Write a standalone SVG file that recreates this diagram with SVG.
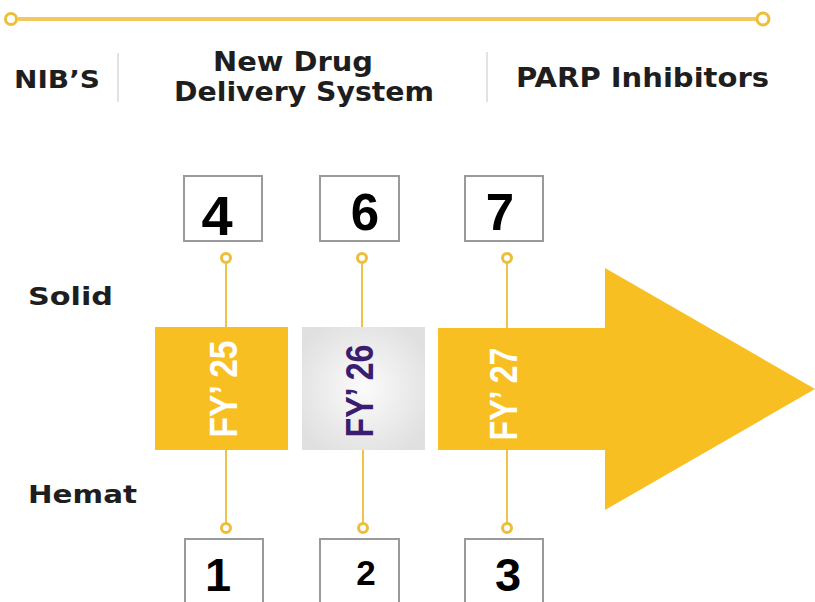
<svg xmlns="http://www.w3.org/2000/svg" width="815" height="602" viewBox="0 0 815 602">
<defs>
<style>
.hdr{font-family:"DejaVu Sans","Liberation Sans",sans-serif;font-weight:bold;fill:#1e1e1e;}
.num{font-family:"Liberation Sans",Arial,sans-serif;font-weight:bold;fill:#000;text-anchor:middle;}
.fy{font-family:"Liberation Sans",Arial,sans-serif;font-weight:bold;font-size:38px;text-anchor:middle;}
.box{fill:#fff;stroke:#9a9a9a;stroke-width:2;}
.conn{stroke:#EEC34A;stroke-width:2;fill:none;}
.dot{fill:#fff;stroke:#EDBE3A;stroke-width:3;}
.sep{stroke:#e3e3e3;stroke-width:2;}
.yel{fill:#F8BF23;}
</style>
<radialGradient id="gray" cx="0.5" cy="0.5" r="0.6">
<stop offset="0" stop-color="#fbfbfb"/>
<stop offset="1" stop-color="#e0e0e0"/>
</radialGradient>
</defs>
<rect width="815" height="602" fill="#fff"/>

<g id="timeline">
<line x1="18" y1="19" x2="756" y2="19" stroke="#F3C85E" stroke-width="4"/>
<circle cx="11" cy="19" r="5.5" class="dot"/>
<circle cx="763" cy="19" r="6" class="dot"/>
</g>

<g id="headers">
<text class="hdr" x="14" y="88" font-size="25" textLength="86" lengthAdjust="spacingAndGlyphs">NIB’S</text>
<line class="sep" x1="118" y1="53" x2="118" y2="102"/>
<text class="hdr" x="293" y="71" font-size="27" text-anchor="middle" textLength="160" lengthAdjust="spacingAndGlyphs">New Drug</text>
<text class="hdr" x="304" y="101" font-size="27" text-anchor="middle" textLength="260" lengthAdjust="spacingAndGlyphs">Delivery System</text>
<line class="sep" x1="487" y1="52" x2="487" y2="102"/>
<text class="hdr" x="516" y="87" font-size="27" textLength="253" lengthAdjust="spacingAndGlyphs">PARP Inhibitors</text>
</g>

<g id="row-labels">
<text class="hdr" x="28" y="305" font-size="25" textLength="85" lengthAdjust="spacingAndGlyphs">Solid</text>
<text class="hdr" x="28" y="503" font-size="25" textLength="109" lengthAdjust="spacingAndGlyphs">Hemat</text>
</g>

<g id="connectors">
<line class="conn" x1="226" y1="262" x2="226" y2="328"/>
<line class="conn" x1="362" y1="262" x2="362" y2="328"/>
<line class="conn" x1="507" y1="262" x2="507" y2="328"/>
<line class="conn" x1="226" y1="450" x2="226" y2="523"/>
<line class="conn" x1="363" y1="450" x2="363" y2="523"/>
<line class="conn" x1="507" y1="450" x2="507" y2="523"/>
<circle class="dot" cx="226" cy="258" r="4.5"/>
<circle class="dot" cx="362" cy="258" r="4.5"/>
<circle class="dot" cx="507" cy="258" r="4.5"/>
<circle class="dot" cx="226" cy="528" r="4.5"/>
<circle class="dot" cx="363" cy="528" r="4.5"/>
<circle class="dot" cx="507" cy="528" r="4.5"/>
</g>

<g id="fy25">
<rect class="yel" x="155" y="327" width="133" height="123"/>
<text class="fy" fill="#fff" transform="translate(223,389) rotate(-90)" y="13.5" textLength="97" lengthAdjust="spacingAndGlyphs">FY’ 25</text>
</g>

<g id="fy26">
<rect fill="url(#gray)" x="302" y="327" width="123" height="123"/>
<text class="fy" fill="#3A1D6E" transform="translate(359,391) rotate(-90)" y="14" textLength="93" lengthAdjust="spacingAndGlyphs">FY’ 26</text>
</g>

<g id="fy27">
<polygon class="yel" points="438,328 605,328 605,268 815,389 605,510 605,450 438,450"/>
<text class="fy" fill="#fff" transform="translate(504,394) rotate(-90)" y="13" textLength="93" lengthAdjust="spacingAndGlyphs">FY’ 27</text>
</g>

<g id="box4">
<rect class="box" x="184" y="176" width="78" height="65"/>
<text class="num" x="217" y="235" font-size="56">4</text>
</g>
<g id="box6">
<rect class="box" x="320" y="176" width="79" height="65"/>
<text class="num" x="365" y="230" font-size="51">6</text>
</g>
<g id="box7">
<rect class="box" x="465" y="176" width="78" height="65"/>
<text class="num" x="500" y="230" font-size="51">7</text>
</g>

<g id="box1">
<rect class="box" x="185" y="539" width="78" height="80"/>
<text class="num" x="218" y="591" font-size="47">1</text>
</g>
<g id="box2">
<rect class="box" x="320" y="539" width="79" height="80"/>
<text class="num" x="366" y="585" font-size="35">2</text>
</g>
<g id="box3">
<rect class="box" x="465" y="539" width="78" height="80"/>
<text class="num" x="508" y="591" font-size="47">3</text>
</g>
</svg>
